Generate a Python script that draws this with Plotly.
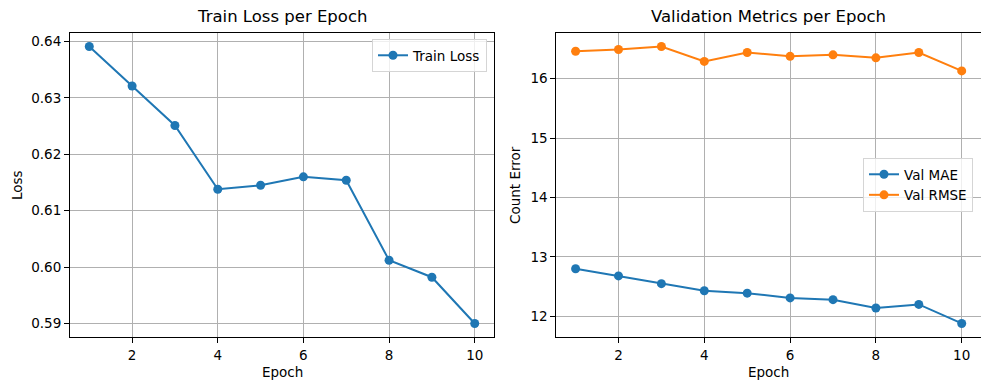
import plotly.graph_objects as go

epochs = [1, 2, 3, 4, 5, 6, 7, 8, 9, 10]
train_loss = [0.6391, 0.6321, 0.6251, 0.6138, 0.6145, 0.6160, 0.6154, 0.6012, 0.5982, 0.5900]
val_mae = [12.80, 12.68, 12.55, 12.43, 12.39, 12.31, 12.28, 12.14, 12.20, 11.88]
val_rmse = [16.46, 16.49, 16.54, 16.29, 16.44, 16.375, 16.40, 16.35, 16.44, 16.13]
x_ticks = [2, 4, 6, 8, 10]

BLUE = "#1f77b4"
ORANGE = "#ff7f0e"
FONT = "DejaVu Sans"
OFF = 8  # page body margin
W, H = 989 - OFF, 390 - OFF


def px(p):
    return (p - OFF) / W


def py(p):
    return 1 - (p - OFF) / H


fig = go.Figure()
mk = dict(size=9)
fig.add_trace(go.Scatter(x=epochs, y=train_loss, mode="lines+markers", name="Train Loss",
                         line=dict(color=BLUE, width=2), marker=dict(color=BLUE, **mk),
                         xaxis="x", yaxis="y", legend="legend"))
fig.add_trace(go.Scatter(x=epochs, y=val_mae, mode="lines+markers", name="Val MAE",
                         line=dict(color=BLUE, width=2), marker=dict(color=BLUE, **mk),
                         xaxis="x2", yaxis="y2", legend="legend2"))
fig.add_trace(go.Scatter(x=epochs, y=val_rmse, mode="lines+markers", name="Val RMSE",
                         line=dict(color=ORANGE, width=2), marker=dict(color=ORANGE, **mk),
                         xaxis="x2", yaxis="y2", legend="legend2"))


def xr(data):
    lo, hi = min(data), max(data)
    m = (hi - lo) * 0.05
    return [lo - m, hi + m]


ydom = [py(337.3), py(32.7)]
axcommon = dict(showline=True, mirror=True, linecolor="black", linewidth=1,
                ticks="outside", ticklen=5, tickcolor="black", tickwidth=1,
                showgrid=True, gridcolor="#b0b0b0", gridwidth=1, zeroline=False,
                tickfont=dict(family=FONT, size=13.5, color="black"))

fig.update_layout(
    width=W, height=H, margin=dict(l=0, r=0, t=0, b=0),
    paper_bgcolor="white", plot_bgcolor="white",
    font=dict(family=FONT, color="black"),
    xaxis=dict(domain=[px(70), px(494)], range=xr(epochs), tickvals=x_ticks, anchor="y", **axcommon),
    yaxis=dict(domain=ydom, range=xr(train_loss), dtick=0.01, tickformat=".2f", anchor="x", **axcommon),
    xaxis2=dict(domain=[px(556.3), px(981)], range=xr(epochs), tickvals=x_ticks, anchor="y2", **axcommon),
    yaxis2=dict(domain=ydom, range=xr(val_mae + val_rmse), dtick=1, anchor="x2", **axcommon),
    legend=dict(x=px(487), y=py(39), xanchor="right", yanchor="top",
                bordercolor="#d5d5d5", borderwidth=1, bgcolor="rgba(255,255,255,0.8)",
                font=dict(family=FONT, size=13.5), itemwidth=30, tracegroupgap=0),
    legend2=dict(x=px(973), y=py(185), xanchor="right", yanchor="middle",
                 bordercolor="#d5d5d5", borderwidth=1, bgcolor="rgba(255,255,255,0.8)",
                 font=dict(family=FONT, size=13.5), itemwidth=30, tracegroupgap=0),
    showlegend=True,
)

ann = [
    dict(text="Train Loss per Epoch", x=px(282), y=py(17), size=16.5),
    dict(text="Validation Metrics per Epoch", x=px(768.5), y=py(17), size=16.5),
    dict(text="Epoch", x=px(282), y=py(372), size=13.5),
    dict(text="Epoch", x=px(768.5), y=py(372), size=13.5),
]
for a in ann:
    fig.add_annotation(text=a["text"], x=a["x"], y=a["y"], xref="paper", yref="paper",
                       showarrow=False, xanchor="center", yanchor="middle",
                       font=dict(family=FONT, size=a["size"], color="black"))
fig.add_annotation(text="Loss", x=px(17), y=py(185), xref="paper", yref="paper",
                   showarrow=False, textangle=-90, xanchor="center", yanchor="middle",
                   font=dict(family=FONT, size=13.5, color="black"))
fig.add_annotation(text="Count Error", x=px(515), y=py(185), xref="paper", yref="paper",
                   showarrow=False, textangle=-90, xanchor="center", yanchor="middle",
                   font=dict(family=FONT, size=13.5, color="black"))

fig.write_html("out.html")
